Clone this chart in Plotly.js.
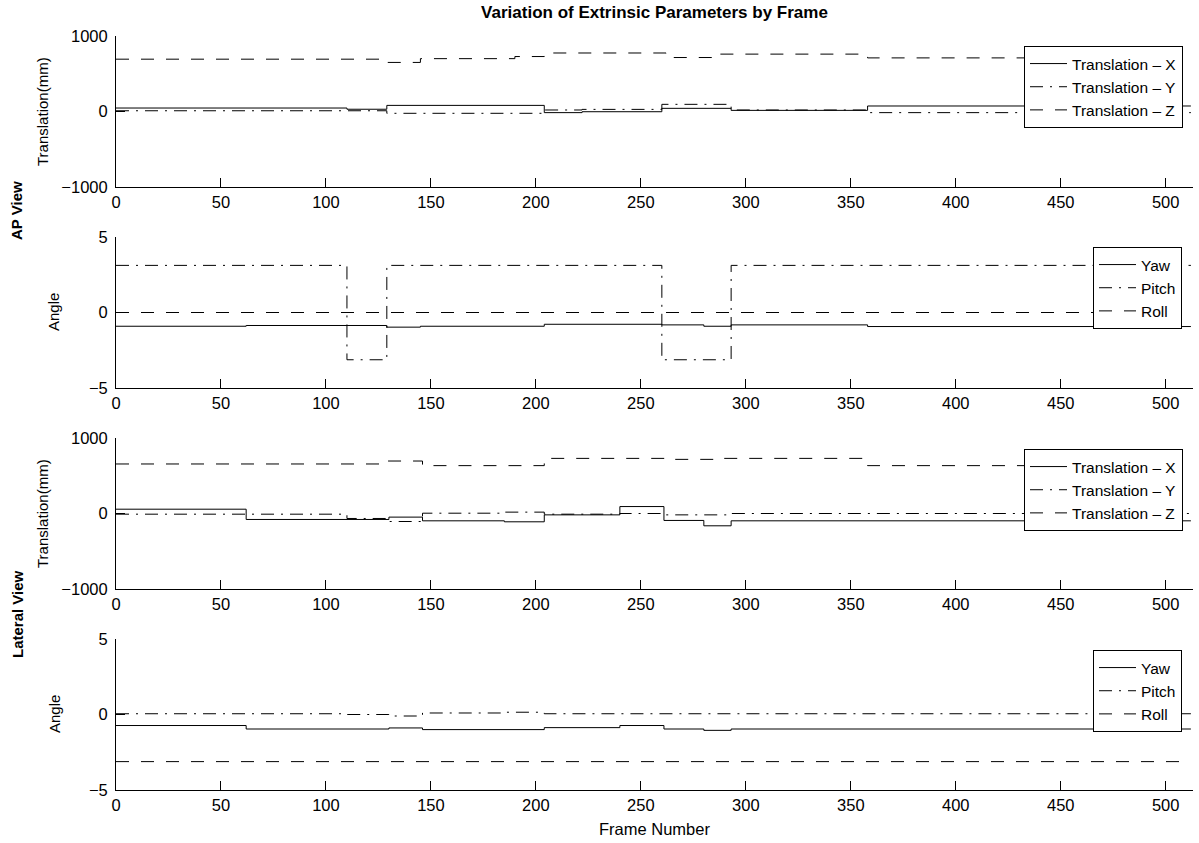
<!DOCTYPE html>
<html>
<head>
<meta charset="utf-8">
<script src="https://cdn.plot.ly/plotly-3.0.1.min.js"></script>
<style>
  html, body { margin: 0; padding: 0; background: #fff; }
  #chart { width: 1199px; height: 843px; }
</style>
</head>
<body>
<div id="chart"></div>
<script>
// Extrinsic parameters per frame, stored as step breakpoints (frame, value).

// AP view – translation (mm)
const apTxFrames = [0, 110, 129, 204, 222, 260, 293, 358, 512];
const apTx       = [46, 30, 81, -15, -3, 42, 15, 73, 73];
const apTyFrames = [0, 129, 204, 222, 260, 293, 358, 512];
const apTy       = [10, -24, 20, 28, 95, 20, -15, -15];
const apTzFrames = [0, 129, 145, 190, 204, 262, 285, 358, 512];
const apTz       = [693, 650, 700, 728, 775, 715, 760, 710, 710];

// AP view – angles
const apYawFrames   = [0, 62, 129, 145, 204, 260, 280, 293, 358, 512];
const apYaw         = [-0.91, -0.86, -0.97, -0.91, -0.78, -0.82, -0.91, -0.82, -0.93, -0.93];
const apPitchFrames = [0, 110, 129, 260, 293, 512];
const apPitch       = [3.12, -3.13, 3.12, -3.13, 3.12, 3.12];
const apRollFrames  = [0, 512];
const apRoll        = [0.0, 0.0];

// Lateral view – translation (mm)
const latTxFrames = [0, 62, 130, 146, 185, 204, 240, 261, 280, 293, 512];
const latTx       = [57, -79, -48, -97, -110, -18, 92, -92, -163, -97, -97];
const latTyFrames = [0, 110, 129, 146, 185, 204, 240, 261, 293, 512];
const latTy       = [-9, -66, -106, 4, 18, -9, 0, -18, 0, 0];
const latTzFrames = [0, 129, 146, 204, 265, 285, 358, 512];
const latTz       = [656, 695, 634, 730, 717, 730, 634, 634];

// Lateral view – angles
const latYawFrames   = [0, 62, 130, 146, 204, 240, 261, 280, 293, 512];
const latYaw         = [-0.73, -0.96, -0.89, -1.0, -0.87, -0.73, -0.96, -1.05, -0.96, -0.96];
const latPitchFrames = [0, 110, 130, 146, 185, 204, 293, 512];
const latPitch       = [0.05, 0.0, -0.1, 0.1, 0.15, 0.05, 0.05, 0.05];
const latRollFrames  = [0, 512];
const latRoll        = [-3.12, -3.12];

// Axis ticks and labels
const frameTicks = [0, 50, 100, 150, 200, 250, 300, 350, 400, 450, 500];
const transTicks = [-1000, 0, 1000];
const angleTicks = [-5, 0, 5];
const transNames = ['Translation \u2013 X', 'Translation \u2013 Y', 'Translation \u2013 Z'];
const angleNames = ['Yaw', 'Pitch', 'Roll'];

const W = 1199, H = 843;
const FONT = 'Liberation Sans, Arial, Helvetica, sans-serif';
const px = v => v / W;
const py = v => 1 - v / H;

const DASHES = ['solid', '13px,7px,2px,7px', '13px,12px'];

function stepTrace(x, y, name, k, axisIdx) {
  const s = axisIdx === 1 ? '' : String(axisIdx);
  return {
    x: x, y: y, name: name, type: 'scatter', mode: 'lines',
    line: { shape: 'hv', color: '#000', width: 1, dash: DASHES[k] },
    xaxis: 'x' + s, yaxis: 'y' + s, legend: 'legend' + s,
    hoverinfo: 'x+y+name'
  };
}

const data = [
  stepTrace(apTxFrames, apTx, transNames[0], 0, 1),
  stepTrace(apTyFrames, apTy, transNames[1], 1, 1),
  stepTrace(apTzFrames, apTz, transNames[2], 2, 1),
  stepTrace(apYawFrames, apYaw, angleNames[0], 0, 2),
  stepTrace(apPitchFrames, apPitch, angleNames[1], 1, 2),
  stepTrace(apRollFrames, apRoll, angleNames[2], 2, 2),
  stepTrace(latTxFrames, latTx, transNames[0], 0, 3),
  stepTrace(latTyFrames, latTy, transNames[1], 1, 3),
  stepTrace(latTzFrames, latTz, transNames[2], 2, 3),
  stepTrace(latYawFrames, latYaw, angleNames[0], 0, 4),
  stepTrace(latPitchFrames, latPitch, angleNames[1], 1, 4),
  stepTrace(latRollFrames, latRoll, angleNames[2], 2, 4)
];

// Panel placement in pixels: [top, bottom]
const panels = [[36, 187], [237, 388], [438, 589], [639, 790]];
const xDom = [px(116), px(1193)];
const TICK_FONT = { family: FONT, size: 16.5, color: '#000' };

function xAxis(anchor) {
  return {
    domain: xDom, anchor: anchor, range: [0, 513],
    tickvals: frameTicks, ticktext: frameTicks.map(String),
    ticks: 'inside', ticklen: 9, tickwidth: 1, tickcolor: '#000',
    showline: true, linecolor: '#000', linewidth: 1, mirror: false,
    showgrid: false, zeroline: false,
    tickfont: TICK_FONT
  };
}
function yAxis(anchor, i, range, ticks) {
  return {
    domain: [py(panels[i][1]), py(panels[i][0])], anchor: anchor, range: range,
    tickvals: ticks,
    ticks: 'inside', ticklen: 9, tickwidth: 1, tickcolor: '#000',
    ticklabelstandoff: 4,
    showline: true, linecolor: '#000', linewidth: 1, mirror: false,
    showgrid: false, zeroline: false,
    tickfont: TICK_FONT
  };
}
function legendAt(right, top) {
  return {
    x: px(right), y: py(top), xanchor: 'right', yanchor: 'top',
    xref: 'paper', yref: 'paper',
    bgcolor: '#fff', bordercolor: '#000', borderwidth: 1,
    itemwidth: 37, tracegroupgap: 0,
    font: { family: FONT, size: 15.5, color: '#000' }
  };
}

const annText = (text, x, y, opts) => Object.assign({
  text: text, x: px(x), y: py(y), xref: 'paper', yref: 'paper',
  showarrow: false, xanchor: 'center', yanchor: 'middle',
  font: { family: FONT, size: 15, color: '#000' }
}, opts || {});
const BOLD_SIDE = { family: FONT, size: 15, color: '#000' };

const layout = {
  width: W, height: H,
  margin: { l: 0, r: 0, t: 0, b: 0 },
  paper_bgcolor: '#fff', plot_bgcolor: '#fff',
  showlegend: true,
  title: {
    text: '<b>Variation of Extrinsic Parameters by Frame</b>',
    x: px(654.5), xanchor: 'center', xref: 'paper',
    y: py(12), yanchor: 'middle', yref: 'container',
    font: { family: FONT, size: 17, color: '#000' }
  },
  xaxis: xAxis('y'), yaxis: yAxis('x', 0, [-1000, 1000], transTicks),
  xaxis2: xAxis('y2'), yaxis2: yAxis('x2', 1, [-5, 5], angleTicks),
  xaxis3: xAxis('y3'), yaxis3: yAxis('x3', 2, [-1000, 1000], transTicks),
  xaxis4: xAxis('y4'), yaxis4: yAxis('x4', 3, [-5, 5], angleTicks),
  legend: legendAt(1183, 46),
  legend2: legendAt(1182, 247),
  legend3: legendAt(1183, 449),
  legend4: legendAt(1182, 650),
  annotations: [
    annText('Translation(mm)', 42, 111, { textangle: -90 }),
    annText('Angle', 54, 312, { textangle: -90 }),
    annText('Translation(mm)', 42, 513, { textangle: -90 }),
    annText('Angle', 54, 714, { textangle: -90 }),
    annText('<b>AP View</b>', 17, 211, { textangle: -90, font: BOLD_SIDE }),
    annText('<b>Lateral View</b>', 17, 614, { textangle: -90, font: BOLD_SIDE }),
    annText('Frame Number', 654.5, 829, { font: { family: FONT, size: 16.5, color: '#000' } })
  ]
};

Plotly.newPlot('chart', data, layout, { displayModeBar: false, staticPlot: true });
</script>
</body>
</html>
